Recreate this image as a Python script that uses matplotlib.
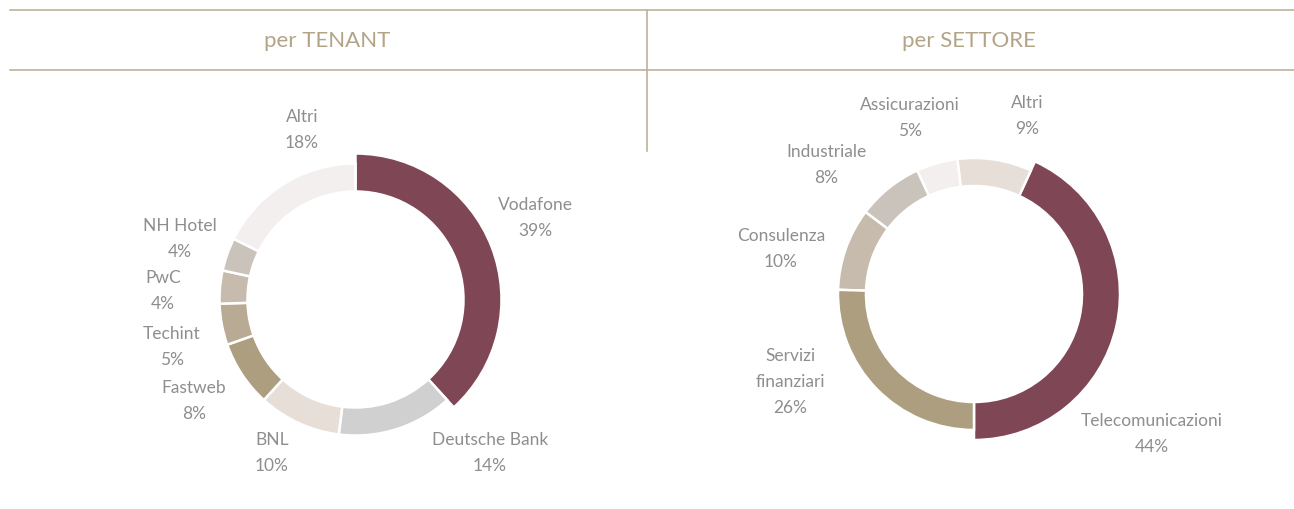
import matplotlib
matplotlib.use("Agg")
import matplotlib.pyplot as plt
from matplotlib.lines import Line2D

plt.rcParams['font.family'] = ['Lato', 'DejaVu Sans']

# ---------------- data ----------------
tenant_labels = ["Vodafone", "Deutsche Bank", "BNL", "Fastweb", "Techint", "PwC", "NH Hotel", "Altri"]
tenant_values = [39, 14, 10, 8, 5, 4, 4, 18]
tenant_colors = ["#7F4656", "#D0D0D0", "#E7DED8", "#AD9E80", "#B8AA93", "#C6BBAC", "#C9C3BC", "#F2EFEE"]

sector_labels = ["Telecomunicazioni", "Altri", "Assicurazioni", "Industriale", "Consulenza", "Servizi\nfinanziari"]
sector_values = [44, 9, 5, 8, 10, 26]
sector_colors = ["#7F4656", "#E7DED8", "#F2EFEE", "#C9C3BC", "#C6BBAC", "#AD9E80"]

titles = ["per TENANT", "per SETTORE"]

# ---------------- layout (pixel space) ----------------
W, H = 1294, 510
fig = plt.figure(figsize=(W / 100, H / 100), dpi=100)
ax = fig.add_axes([0, 0, 1, 1])

def py(y):
    return H - y

line_col = "#BDB29C"
txt_col = "#8E8E8E"
head_col = "#B3A487"

R = 136
R_big = 146
inner = 108

def donut(values, colors, center, start, counterclock):
    wedges, _ = ax.pie(values, colors=colors, center=(center[0], py(center[1])),
                       radius=R, startangle=start, counterclock=counterclock,
                       wedgeprops=dict(width=R - inner, edgecolor='white', linewidth=1.8),
                       frame=True)
    wedges[0].set_radius(R_big)
    wedges[0].set_width(R_big - inner)
    return wedges

donut(tenant_values, tenant_colors, (355.5, 300.5), 90, False)
donut(sector_values, sector_colors, (974, 295), 270, True)

ax.set_xlim(0, W)
ax.set_ylim(0, H)
ax.set_aspect('auto')
ax.axis('off')

# header lines
ax.add_line(Line2D([10, W], [py(11), py(11)], color=line_col, lw=1.2))
ax.add_line(Line2D([10, W], [py(71), py(71)], color=line_col, lw=1.2))
ax.add_line(Line2D([647, 647], [py(11), py(152)], color=line_col, lw=1.2))

ax.text(327, py(41), titles[0], ha='center', va='center', fontsize=16, color=head_col)
ax.text(969, py(41), titles[1], ha='center', va='center', fontsize=16, color=head_col)

# label positions (pixel centers of label blocks)
tenant_pos = [(535, 218), (490, 453), (272, 453), (194, 401), (172, 347), (163, 291), (180, 239), (302, 130)]
sector_pos = [(1152, 434), (1027, 116), (910, 118), (826, 165), (781, 249), (790, 382)]

for lab, val, (x, y) in zip(tenant_labels, tenant_values, tenant_pos):
    ax.text(x, py(y), f"{lab}\n{val}%", ha='center', va='center', fontsize=12.5,
            color=txt_col, linespacing=1.75)
for lab, val, (x, y) in zip(sector_labels, sector_values, sector_pos):
    ax.text(x, py(y), f"{lab}\n{val}%", ha='center', va='center', fontsize=12.5,
            color=txt_col, linespacing=1.75)

fig.savefig("out.png", dpi=100, facecolor='white')
